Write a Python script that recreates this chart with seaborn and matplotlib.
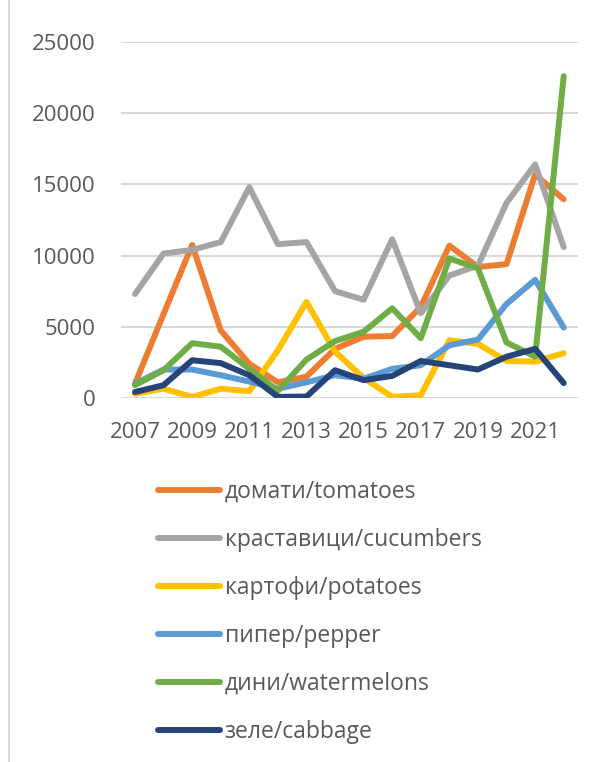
import pandas as pd
import matplotlib.pyplot as plt
import seaborn as sns
from matplotlib.lines import Line2D

years = list(range(2007, 2023))
tomatoes = [1000, 5900, 10750, 4750, 2400, 1100, 1500, 3450, 4300, 4350, 6400, 10700, 9200, 9400, 15700, 13950]
cucumbers = [7300, 10150, 10400, 10950, 14800, 10800, 10950, 7500, 6900, 11150, 5950, 8600, 9300, 13700, 16400, 10600]
potatoes = [300, 650, 80, 650, 480, 3350, 6750, 3250, 1400, 80, 200, 4050, 3800, 2600, 2550, 3150]
pepper = [1000, 2000, 2000, 1600, 1150, 650, 1100, 1600, 1350, 2050, 2300, 3700, 4100, 6600, 8300, 4950]
watermelons = [900, 1950, 3850, 3600, 2050, 500, 2700, 4000, 4650, 6300, 4200, 9800, 9100, 3900, 2900, 22600]
cabbage = [420, 900, 2650, 2450, 1600, 80, 100, 1950, 1250, 1550, 2600, 2300, 2000, 2900, 3450, 1050]

labels = ['домати/tomatoes', 'краставици/cucumbers', 'картофи/potatoes',
          'пипер/pepper', 'дини/watermelons', 'зеле/cabbage']
colors = ['#ed7d31', '#a5a5a5', '#ffc000', '#5b9bd5', '#70ad47', '#264478']
series = [tomatoes, cucumbers, potatoes, pepper, watermelons, cabbage]

frames = []
for name, vals in zip(labels, series):
    frames.append(pd.DataFrame({'year': years, 'value': vals, 'crop': name}))
df = pd.concat(frames)

sns.set_style('white')
plt.rcParams['font.family'] = ['Open Sans', 'DejaVu Sans']
text_color = '#595959'

fig = plt.figure(figsize=(6.14, 7.62), dpi=100)
ax = fig.add_axes([120.7 / 614, 1 - 398 / 762, (578 - 120.7) / 614, (398 - 42) / 762])

sns.lineplot(data=df, x='year', y='value', hue='crop', palette=colors,
             linewidth=4.3, ax=ax, legend=False)

ax.set_xlim(2006.5, 2022.5)
ax.set_ylim(0, 25000)
ax.set_yticks(range(0, 25001, 5000))
ax.set_xticks(range(2007, 2022, 2))
ax.set_xlabel('')
ax.set_ylabel('')
ax.grid(axis='y', color='#d9d9d9', linewidth=1.5)
ax.set_axisbelow(True)
for s in ax.spines.values():
    s.set_visible(False)
ax.tick_params(axis='both', length=0, labelsize=16, colors=text_color)
ax.tick_params(axis='y', pad=18)
ax.tick_params(axis='x', pad=17)

handles = [Line2D([0], [0], color=c, linewidth=4.3, solid_capstyle='round') for c in colors]
leg = fig.legend(handles, labels, loc='upper left', bbox_to_anchor=(137 / 614, 1 - 459 / 762),
                 frameon=False, fontsize=16.5, handlelength=2.7, handletextpad=0.22,
                 labelspacing=1.05, labelcolor=text_color)

fig.add_artist(Line2D([9 / 614, 9 / 614], [0, 1], color='#d9d9d9', linewidth=1.5))

fig.savefig('out.png', dpi=100, facecolor='white')
